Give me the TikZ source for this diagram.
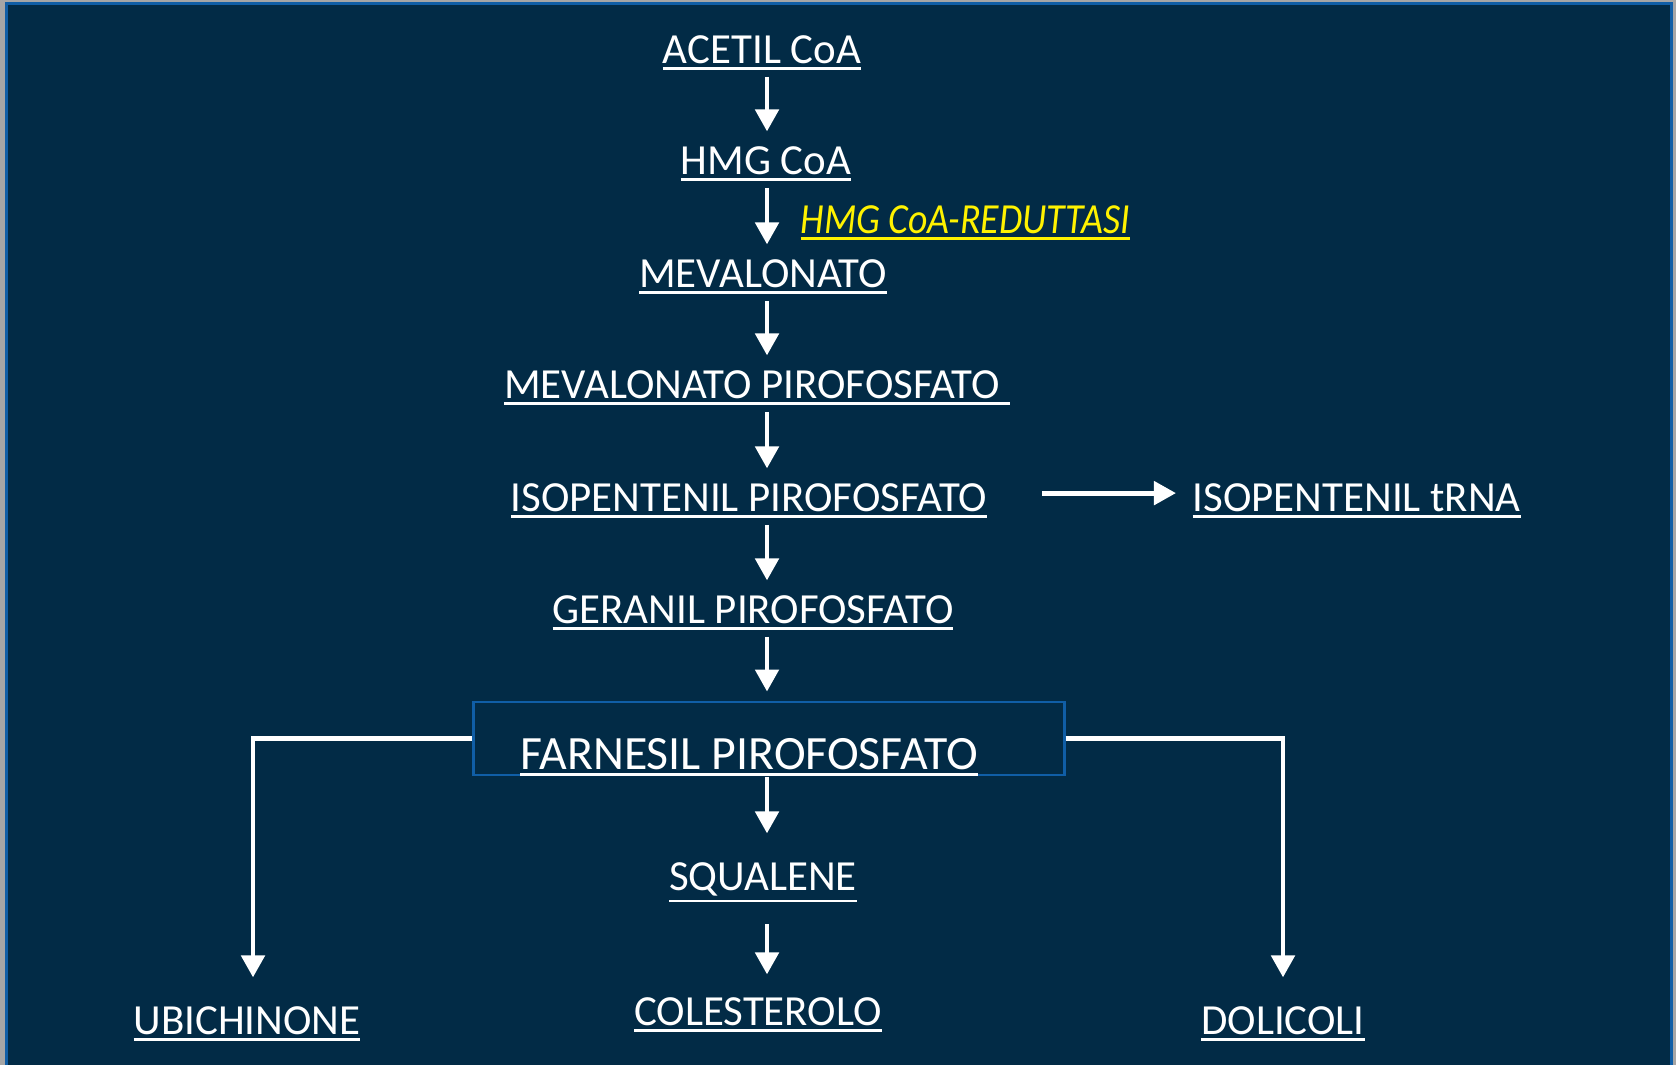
\documentclass[tikz,border=0pt]{standalone}
\usepackage{fontspec}
\setmainfont{Carlito}
\newfontfamily\enzimafont[FakeStretch=0.88]{Carlito}
\usetikzlibrary{arrows.meta}
\definecolor{sfondo}{RGB}{2,43,70}
\definecolor{bordo}{RGB}{16,94,166}
\definecolor{cornice}{RGB}{166,166,166}
\newcommand{\sott}[1]{\vtop{\hbox{#1}\kern0.9pt\hrule height 0.75pt}}

\begin{document}
\begin{tikzpicture}[x=0.01cm,y=-0.01cm,
	lbl/.style={anchor=base,inner sep=0pt,text=white,font=\fontsize{12.2}{14}\selectfont},
	freccia/.style={white,line width=1.4pt,-{Triangle[length=0.22cm,width=0.23cm]},shorten <=0.06cm,shorten >=0.15cm}]
	\useasboundingbox (0,0) rectangle (1676,1065);
	\fill[cornice] (0,0) rectangle (1676,1065);
	\fill[bordo] (5,2) rectangle (1673,1065);
	\fill[sfondo] (8,5) rectangle (1670,1065);
	% colonna centrale
	\coordinate (ax) at (767,0);
	\foreach \nm/\x/\y/\txt in
	{
		acetil/762/64/ACETIL CoA,
		hmg/766/175/HMG CoA,
		meva/763/288/MEVALONATO,
		mevapp/757/399/MEVALONATO PIROFOSFATO\ ,
		isop/749/512/ISOPENTENIL PIROFOSFATO,
		geranil/753/624/GERANIL PIROFOSFATO,
		squalene/763/891/SQUALENE,
		colest/758/1026/COLESTEROLO,
		ubi/247/1035/UBICHINONE,
		doli/1283/1035/DOLICOLI}
	{
		\node[lbl] (\nm) at (\x,\y) {\sott{\txt}};
	}
	\node[lbl,anchor=base west] (trna) at (1192,512) {\sott{ISOPENTENIL tRNA}};
	\node[lbl,anchor=base west,text=yellow,font=\enzimafont\fontsize{12.2}{14}\selectfont\itshape] (enzima) at (800,234) {\sott{HMG CoA-REDUTTASI}};
	\node[draw=bordo,line width=0.8pt,minimum width=5.9cm,minimum height=0.73cm,inner sep=0pt] (fppbox) at (769,738.5) {};
	\node[lbl,font=\fontsize{13.6}{16}\selectfont] (farnesil) at (749,770) {\sott{FARNESIL PIROFOSFATO}};
	% frecce
	\foreach \a/\b in {acetil/hmg,hmg/meva,meva/mevapp,mevapp/isop,isop/geranil}
	{
		\draw[freccia] (\a.south -| ax) -- (\b.north -| ax);
	}
	\draw[freccia,shorten >=0.09cm] (geranil.south -| ax) -- (fppbox.north -| ax);
	\draw[freccia,shorten <=0pt,shorten >=0.29cm] (farnesil.south -| ax) -- (squalene.north -| ax);
	\draw[freccia,shorten <=0.21cm,shorten >=0.23cm] (squalene.south -| ax) -- (colest.north -| ax);
	\draw[freccia,shorten <=0.54cm,shorten >=0.16cm] ([yshift=0.08cm]isop.east) -- ([yshift=0.08cm]isop.east -| trna.west);
	\draw[freccia,shorten <=0pt,shorten >=0.29cm] (fppbox.west) -| ([xshift=0.06cm]ubi.north);
	\draw[freccia,shorten <=0pt,shorten >=0.29cm] (fppbox.east) -| (doli.north);
\end{tikzpicture}
\end{document}
